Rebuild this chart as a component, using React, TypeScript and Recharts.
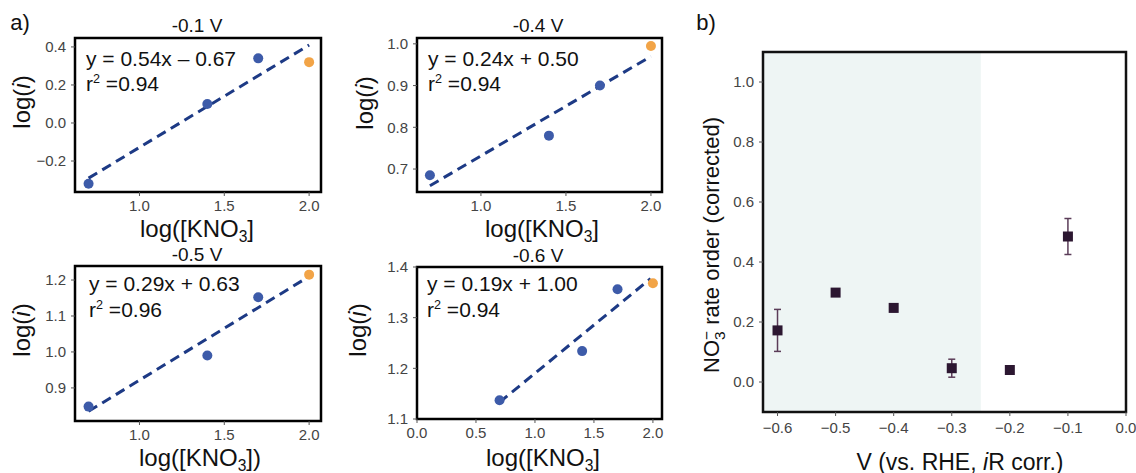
import React from 'react';
import { ScatterChart, Scatter, XAxis, YAxis, ReferenceArea, ErrorBar } from 'recharts';

// panel a) log-log fits, one set per potential
const p01Blue = [{ x: 0.7, y: -0.32 }, { x: 1.4, y: 0.1 }, { x: 1.7, y: 0.34 }];
const p01Orange = [{ x: 2.0, y: 0.32 }];
const p01Fit = [{ x: 0.7, y: -0.29 }, { x: 2.0, y: 0.41 }];

const p04Blue = [{ x: 0.7, y: 0.685 }, { x: 1.4, y: 0.78 }, { x: 1.7, y: 0.9 }];
const p04Orange = [{ x: 2.0, y: 0.995 }];
const p04Fit = [{ x: 0.7, y: 0.66 }, { x: 2.0, y: 0.97 }];

const p05Blue = [{ x: 0.7, y: 0.848 }, { x: 1.4, y: 0.99 }, { x: 1.7, y: 1.152 }];
const p05Orange = [{ x: 2.0, y: 1.215 }];
const p05Fit = [{ x: 0.7, y: 0.835 }, { x: 2.0, y: 1.21 }];

const p06Blue = [{ x: 0.7, y: 1.137 }, { x: 1.4, y: 1.234 }, { x: 1.7, y: 1.356 }];
const p06Orange = [{ x: 2.0, y: 1.368 }];
const p06Fit = [{ x: 0.7, y: 1.133 }, { x: 1.98, y: 1.377 }];

// panel b) rate order vs potential
const voltages = [-0.6, -0.5, -0.4, -0.3, -0.2, -0.1];
const rateOrder = [0.172, 0.298, 0.247, 0.046, 0.04, 0.485];
const rateErr = [0.07, 0.004, 0.012, 0.03, 0, 0.06];
const orderData = voltages.map((v, i) => ({ x: v, y: rateOrder[i], err: rateErr[i] }));

const BLUE = '#3d5ba9';
const ORANGE = '#f2a447';
const NAVY = '#1d3a85';
const SQUARE = '#2c1731';
const FONT = '"Liberation Sans", Arial, Helvetica, sans-serif';

const fmt = (v: number) => (v < 0 ? '\u2212' : '') + Math.abs(v).toFixed(1);

const Dot = (color: string) => (props: any) => <circle cx={props.cx} cy={props.cy} r={5} fill={color} />;
const Nothing = () => <g />;

const tickStyle = { fontSize: 15, fill: '#444', fontFamily: FONT };

interface PanelProps {
  left: number;
  top: number;
  width: number;
  height: number;
  margin: { top: number; right: number; bottom: number; left: number };
  xDomain: [number, number];
  yDomain: [number, number];
  xTicks: number[];
  yTicks: number[];
  blue: { x: number; y: number }[];
  orange: { x: number; y: number }[];
  fit: { x: number; y: number }[];
}

const SmallPanel = ({ left, top, width, height, margin, xDomain, yDomain, xTicks, yTicks, blue, orange, fit }: PanelProps) => (
  <div style={{ position: 'absolute', left, top }}>
    <ScatterChart width={width} height={height} margin={margin}>
      <XAxis type="number" dataKey="x" domain={xDomain} ticks={xTicks} tickFormatter={fmt} axisLine={false}
        tickSize={4} tickMargin={4} tick={tickStyle} stroke="#555" height={25} allowDataOverflow />
      <YAxis type="number" dataKey="y" domain={yDomain} ticks={yTicks} tickFormatter={fmt} axisLine={false}
        tickSize={4} tickMargin={5} tick={tickStyle} stroke="#555" width={45} allowDataOverflow />
      <Scatter data={fit} shape={Nothing} isAnimationActive={false}
        line={{ stroke: NAVY, strokeWidth: 3, strokeDasharray: '10 6', fill: 'none' }} />
      <Scatter data={blue} shape={Dot(BLUE)} isAnimationActive={false} />
      <Scatter data={orange} shape={Dot(ORANGE)} isAnimationActive={false} />
      <ReferenceArea x1={xDomain[0]} x2={xDomain[1]} y1={yDomain[0]} y2={yDomain[1]}
        fill="none" stroke="#000" strokeWidth={2.5} ifOverflow="visible" />
    </ScatterChart>
  </div>
);

const Text = ({ x, y, size, children, rotate, anchor = 'center' }: any) => (
  <div style={{
    position: 'absolute', left: x, top: y, fontSize: size, whiteSpace: 'nowrap', lineHeight: 1, color: '#111',
    transform: `translate(${anchor === 'left' ? '0' : '-50%'}, -50%)${rotate ? ' rotate(-90deg)' : ''}`,
  }}>{children}</div>
);

const Kno3 = ({ close }: { close?: boolean }) => (
  <>log([KNO<span style={{ fontSize: '0.65em', position: 'relative', top: '0.3em' }}>3</span>]{close ? ')' : ''}</>
);
const LogI = () => <>log(<i>i</i>)</>;
const R2 = ({ v }: { v: string }) => <>r<span style={{ fontSize: '0.6em', position: 'relative', top: '-0.6em' }}>2</span> ={v}</>;

export default function App() {
  return (
    <div style={{ position: 'absolute', left: 0, top: 0, width: 1136, height: 473, background: '#fff', fontFamily: FONT }}>
      <SmallPanel left={0} top={0} width={330} height={240} margin={{ top: 38, right: 9, bottom: 23, left: 30 }}
        xDomain={[0.62, 2.07]} yDomain={[-0.363, 0.447]} xTicks={[1.0, 1.5, 2.0]} yTicks={[-0.2, 0, 0.2, 0.4]}
        blue={p01Blue} orange={p01Orange} fit={p01Fit} />
      <SmallPanel left={330} top={0} width={350} height={240} margin={{ top: 38, right: 18, bottom: 23, left: 42 }}
        xDomain={[0.624, 2.065]} yDomain={[0.645, 1.014]} xTicks={[1.0, 1.5, 2.0]} yTicks={[0.7, 0.8, 0.9, 1.0]}
        blue={p04Blue} orange={p04Orange} fit={p04Fit} />
      <SmallPanel left={0} top={230} width={330} height={243} margin={{ top: 36, right: 9, bottom: 27, left: 30 }}
        xDomain={[0.62, 2.07]} yDomain={[0.808, 1.239]} xTicks={[1.0, 1.5, 2.0]} yTicks={[0.9, 1.0, 1.1, 1.2]}
        blue={p05Blue} orange={p05Orange} fit={p05Fit} />
      <SmallPanel left={330} top={230} width={350} height={243} margin={{ top: 37, right: 18, bottom: 29, left: 42 }}
        xDomain={[0, 2.077]} yDomain={[1.1, 1.4]} xTicks={[0, 0.5, 1.0, 1.5, 2.0]} yTicks={[1.1, 1.2, 1.3, 1.4]}
        blue={p06Blue} orange={p06Orange} fit={p06Fit} />

      <div style={{ position: 'absolute', left: 690, top: 0 }}>
        <ScatterChart width={446} height={473} margin={{ top: 52, right: 10, bottom: 31, left: 33 }}>
          <XAxis type="number" dataKey="x" domain={[-0.625, 0]} ticks={voltages.concat([0])} tickFormatter={fmt}
            axisLine={false} tickSize={4} tickMargin={6} tick={tickStyle} stroke="#555" height={30} allowDataOverflow />
          <YAxis type="number" dataKey="y" domain={[-0.1, 1.1]} ticks={[0, 0.2, 0.4, 0.6, 0.8, 1.0]} tickFormatter={fmt}
            axisLine={false} tickSize={4} tickMargin={5} tick={tickStyle} stroke="#555" width={40} allowDataOverflow />
          <ReferenceArea x1={-0.625} x2={-0.25} y1={-0.1} y2={1.1} fill="#eef5f4" fillOpacity={1} stroke="none" ifOverflow="visible" />
          <Scatter data={orderData} isAnimationActive={false}
            shape={(p: any) => <rect x={p.cx - 5} y={p.cy - 5} width={10} height={10} fill={SQUARE} />}>
            <ErrorBar dataKey="err" direction="y" width={3.5} stroke="#5b3c58" strokeWidth={1.5} />
          </Scatter>
          <ReferenceArea x1={-0.625} x2={0} y1={-0.1} y2={1.1} fill="none" stroke="#111" strokeWidth={2.5} ifOverflow="visible" />
        </ScatterChart>
      </div>

      <Text x={20} y={23} size={22}>a)</Text>
      <Text x={706} y={23} size={22}>b)</Text>

      <Text x={197} y={25} size={19}>-0.1 V</Text>
      <Text x={538} y={25} size={19}>-0.4 V</Text>
      <Text x={197} y={254} size={19}>-0.5 V</Text>
      <Text x={538} y={255} size={19}>-0.6 V</Text>

      <Text x={86} y={58} size={21} anchor="left">y = 0.54x – 0.67</Text>
      <Text x={86} y={83} size={21} anchor="left"><R2 v="0.94" /></Text>
      <Text x={428} y={58} size={21} anchor="left">y = 0.24x + 0.50</Text>
      <Text x={428} y={83} size={21} anchor="left"><R2 v="0.94" /></Text>
      <Text x={89} y={283} size={21} anchor="left">y = 0.29x + 0.63</Text>
      <Text x={89} y={309} size={21} anchor="left"><R2 v="0.96" /></Text>
      <Text x={427} y={283} size={21} anchor="left">y = 0.19x + 1.00</Text>
      <Text x={427} y={309} size={21} anchor="left"><R2 v="0.94" /></Text>

      <Text x={22} y={102} size={24} rotate><LogI /></Text>
      <Text x={365} y={103} size={24} rotate><LogI /></Text>
      <Text x={22} y={330} size={24} rotate><LogI /></Text>
      <Text x={358} y={330} size={24} rotate><LogI /></Text>

      <Text x={197} y={229} size={24}><Kno3 /></Text>
      <Text x={542} y={229} size={24}><Kno3 /></Text>
      <Text x={200} y={458} size={24}><Kno3 close /></Text>
      <Text x={543} y={458} size={24}><Kno3 /></Text>

      <Text x={713} y={245} size={22} rotate>
        NO<span style={{ display: 'inline-flex', flexDirection: 'column', fontSize: '0.7em', lineHeight: 0.85, verticalAlign: 'middle' }}>
          <span>{'\u2212'}</span><span>3</span>
        </span> rate order (corrected)
      </Text>
      <Text x={960} y={462} size={23}>V (vs. RHE, <i>i</i>R corr.)</Text>
    </div>
  );
}
